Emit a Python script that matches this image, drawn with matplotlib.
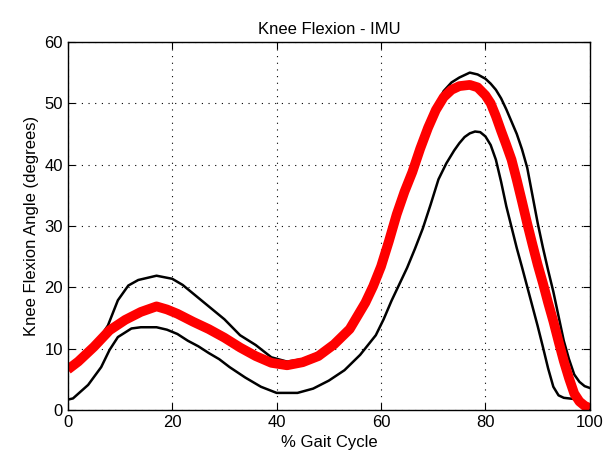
import matplotlib.pyplot as plt

# mean knee flexion curve (red)
mean_x = [0, 2, 5, 8, 11, 14, 17, 19, 21, 24, 27, 30, 33, 36, 39, 42, 45, 48, 51, 54, 57,
          58.5, 60, 61.5, 63, 64.5, 66, 67.5, 69, 70.5, 72, 73.5, 75, 77, 78.5, 80,
          81, 82, 83, 84, 85, 86, 87, 88, 89, 90, 91, 92, 93, 94, 95, 96, 97, 98, 99, 100]
mean_y = [6.6, 7.9, 10.3, 13.0, 14.7, 16.0, 16.9, 16.4, 15.7, 14.4, 13.2, 11.8, 10.2, 8.8, 7.7, 7.3, 7.8, 8.8, 10.7, 13.2, 17.5,
          20.2, 23.4, 27.5, 31.9, 35.6, 38.8, 42.6, 46.0, 48.9, 51.0, 52.2, 52.8, 53.0, 52.6, 51.3,
          50.0, 47.9, 45.5, 43.2, 40.8, 37.5, 34.0, 30.4, 27.0, 23.7, 20.7, 17.5, 14.5, 11.2, 8.0, 5.2, 2.7, 1.4, 0.7, 0.3]

# upper bound (black)
upper_x = [0, 3, 6, 7.7, 9.6, 11.6, 13.5, 17, 20, 22, 24, 27, 30, 33, 36, 39, 42, 45, 48, 51, 54, 57,
           58.5, 60, 61.5, 63, 64.5, 66, 67.5, 69, 70.5, 72, 73.5, 75, 77, 78.5, 80,
           81, 82, 83, 84, 85, 86, 87, 88, 89, 90, 91, 92, 93, 94, 95, 96, 97, 98, 99, 100]
upper_y = [7.0, 9.0, 11.6, 13.8, 17.9, 20.3, 21.2, 21.9, 21.4, 20.4, 19.0, 16.9, 14.8, 12.2, 10.6, 8.6, 7.9, 8.3, 9.3, 11.2, 13.7, 18.0,
           20.8, 24.0, 28.0, 32.5, 36.2, 39.6, 43.2, 46.5, 49.6, 52.0, 53.4, 54.2, 55.0, 54.7, 54.0,
           53.2, 52.2, 50.8, 49.0, 47.0, 45.0, 42.5, 39.5, 35.0, 30.5, 26.5, 22.8, 19.3, 15.3, 11.3, 8.3, 5.8, 4.6, 3.9, 3.6]

# lower bound (black)
lower_x = [0, 1, 3.9, 6.4, 8, 9.6, 12.2, 14, 17, 19, 21, 23, 25, 27, 29, 31, 34, 37, 40, 44, 47, 50, 53, 56, 59,
           60.5, 62, 63.5, 65, 66.5, 68, 69.5, 71, 72.5, 74, 75, 76, 77, 78, 79, 80,
           81, 82, 83, 84, 85, 86, 87, 88, 89, 90, 91, 92, 93, 94, 95, 96, 97, 98, 99, 100]
lower_y = [1.7, 1.9, 4.1, 7.0, 9.8, 11.9, 13.3, 13.5, 13.5, 13.1, 12.4, 11.3, 10.4, 9.3, 8.3, 7.0, 5.3, 3.8, 2.8, 2.8, 3.5, 4.8, 6.5, 9.0, 12.2,
           14.8, 17.8, 20.5, 23.2, 26.3, 29.6, 33.5, 37.6, 40.2, 42.3, 43.5, 44.5, 45.1, 45.4, 45.3, 44.6,
           43.2, 40.8, 37.2, 33.2, 29.8, 26.4, 23.3, 20.1, 16.9, 13.7, 10.3, 6.8, 3.8, 2.4, 2.0, 1.9, 1.8, 1.3, 0.6, 0.0]

plt.rcParams['font.family'] = ['Liberation Sans', 'DejaVu Sans']

fig = plt.figure(figsize=(6.05, 4.66), dpi=100)
ax = fig.add_axes([0.112, 0.12, 0.863, 0.79])

ax.plot(upper_x, upper_y, color='black', linewidth=1.8)
ax.plot(lower_x, lower_y, color='black', linewidth=1.8)
ax.plot(mean_x, mean_y, color='red', linewidth=7, solid_capstyle='butt', solid_joinstyle='round')

ax.set_xlim(0, 100)
ax.set_ylim(0, 60)
ax.set_xticks(range(0, 101, 20))
ax.set_yticks(range(0, 61, 10))
ax.grid(True, color='black', linestyle=(0, (1, 5)), linewidth=0.8)
ax.tick_params(direction='in', top=True, right=True, labelsize=12, length=5)
for s in ax.spines.values():
    s.set_linewidth(1.0)

ax.set_title('Knee Flexion - IMU', fontsize=12)
ax.set_xlabel('% Gait Cycle', fontsize=12)
ax.set_ylabel('Knee Flexion Angle (degrees)', fontsize=12)

fig.savefig('out.png', dpi=100)
